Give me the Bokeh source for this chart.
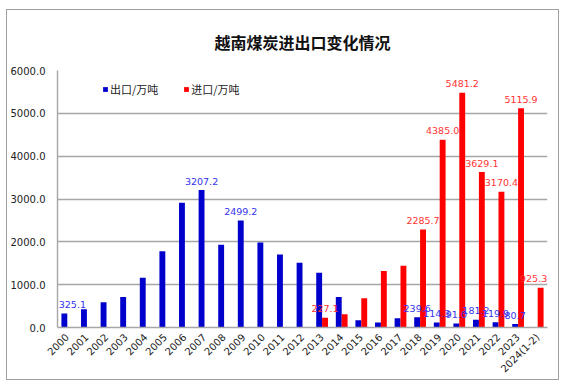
from bokeh.plotting import figure
from bokeh.models import (ColumnDataSource, FactorRange, Legend, LegendItem, Title,
                          NumeralTickFormatter, LabelSet)
from bokeh.transform import dodge
from bokeh.core.properties import value
from bokeh.embed import file_html
from bokeh.resources import INLINE
import math

years = [str(y) for y in range(2000, 2024)] + ["2024(1-2)"]
export_vals = [325.1, 426, 589, 713, 1163, 1783, 2915, 3207.2, 1930, 2499.2, 1984, 1705,
               1512, 1279, 713, 171, 116, 217, 239.6, 114.3, 91.0, 181.2, 119.9, 80.7, None]
import_vals = [None] * 13 + [227.1, 310, 682, 1318, 1442, 2285.7, 4385.0, 5481.2, 3629.1,
                             3170.4, 5115.9, 925.3]
export_labeled = ["2000", "2007", "2009", "2018", "2019", "2020", "2021", "2022", "2023"]
import_labeled = ["2013", "2018", "2019", "2020", "2021", "2022", "2023", "2024(1-2)"]
title_text = "越南煤炭进出口变化情况"
series_names = ["出口/万吨", "进口/万吨"]

# small horizontal nudges (px) so edge labels stay inside the plot frame
label_nudge = {"2000": 8, "2024(1-2)": -7}

BLUE = "#0000cc"
RED = "#ff0000"
GRID = "#a6a6a6"

def src(vals, labeled):
    xs, ts, ls, dx = [], [], [], []
    for y, v in zip(years, vals):
        if v is None:
            continue
        xs.append(y)
        ts.append(v)
        ls.append(f"{v:.1f}" if y in labeled else "")
        dx.append(label_nudge.get(y, 0))
    return ColumnDataSource(dict(x=xs, top=ts, lab=ls, dx=dx))

s_exp = src(export_vals, export_labeled)
s_imp = src(import_vals, import_labeled)

p = figure(x_range=FactorRange(*years), y_range=(0, 6000),
           width=553, height=371, output_backend="svg", toolbar_location=None,
           min_border_left=50, min_border_right=13, min_border_top=60, min_border_bottom=54)
p.styles = {"border": "1.5px solid #a0a0a0", "margin": "9px 0px 0px 6px"}
p.outline_line_color = None
p.background_fill_color = "white"

p.title = Title(text=title_text, align="center", text_font="Noto Sans CJK SC",
                text_font_size="16px", text_font_style="bold", text_color="#111111",
                standoff=34, offset=-22)

w = 0.3
r1 = p.vbar(x=dodge("x", -0.15, range=p.x_range), top="top", width=w, source=s_exp,
            fill_color=BLUE, line_color=None)
r2 = p.vbar(x=dodge("x", 0.15, range=p.x_range), top="top", width=w, source=s_imp,
            fill_color=RED, line_color=None)

p.add_layout(LabelSet(x=dodge("x", -0.15, range=p.x_range), y="top", text="lab", source=s_exp,
                      x_offset="dx", text_align="center", text_baseline="middle", y_offset=9,
                      text_font=value("DejaVu Sans"), text_font_size=value("9.5px"),
                      text_color="#3333ee"))
p.add_layout(LabelSet(x=dodge("x", 0.15, range=p.x_range), y="top", text="lab", source=s_imp,
                      x_offset="dx", text_align="center", text_baseline="middle", y_offset=9,
                      text_font=value("DejaVu Sans"), text_font_size=value("9.5px"),
                      text_color="#ff3333"))

p.xgrid.grid_line_color = None
p.ygrid.grid_line_color = GRID
p.ygrid.grid_line_width = 1.4
p.yaxis.ticker = [0, 1000, 2000, 3000, 4000, 5000, 6000]
p.yaxis.formatter = NumeralTickFormatter(format="0.0")
for ax in (p.xaxis, p.yaxis):
    ax.axis_line_color = GRID
    ax.axis_line_width = 1.4
    ax.major_tick_line_color = None
    ax.minor_tick_line_color = None
    ax.major_tick_in = 0
    ax.major_tick_out = 0
    ax.major_label_text_font = "DejaVu Sans"
    ax.major_label_text_font_size = "10px"
    ax.major_label_text_color = "#222222"
p.yaxis.major_label_standoff = 12
p.xaxis.major_label_standoff = 8
p.xaxis.major_label_orientation = math.pi / 4

legend = Legend(items=[LegendItem(label=series_names[0], renderers=[r1]),
                       LegendItem(label=series_names[1], renderers=[r2])],
                orientation="horizontal", location=(45, 230),
                glyph_width=6, glyph_height=6, label_height=12, label_standoff=2,
                spacing=25, padding=0, margin=0,
                border_line_color=None, background_fill_alpha=0,
                label_text_font="Noto Sans CJK SC", label_text_font_size="11px",
                label_text_color="#222222")
p.add_layout(legend, "center")

open("out.html", "w").write(file_html(p, INLINE))
